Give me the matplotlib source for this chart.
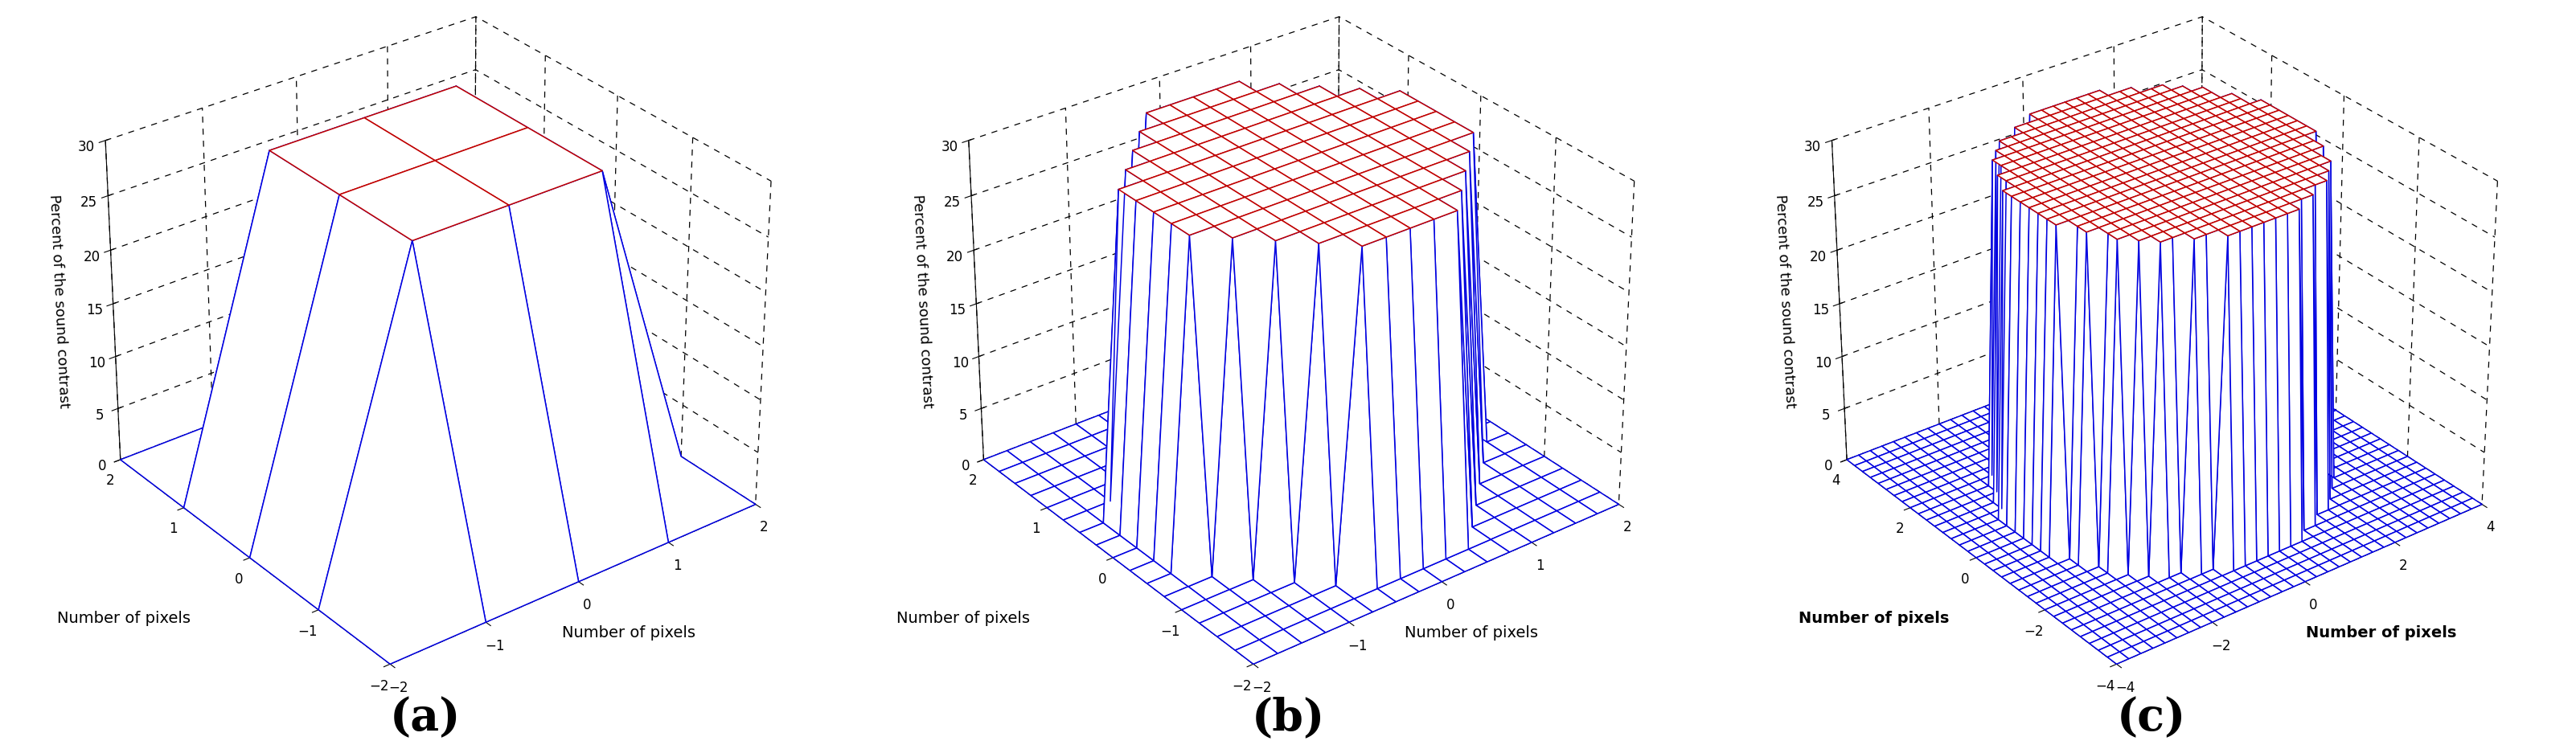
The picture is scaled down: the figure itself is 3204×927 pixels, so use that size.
import numpy as np
import matplotlib
matplotlib.use("Agg")
import matplotlib.pyplot as plt

# panel settings: axis half-range, grid step, radius of raised disk, height
half_range = [2, 2, 4]
grid_step = [1.0, 0.25, 0.25]
top_radius = [1.5, 1.6, 2.9]
top_height = [30, 30, 30]
panel_names = ["(a)", "(b)", "(c)"]
z_ticks = [0, 5, 10, 15, 20, 25, 30]
label_weights = ["normal", "normal", "bold"]

fig = plt.figure(figsize=(32.05, 9.28), dpi=100)
lefts = [-0.02, 0.315, 0.65]
xlab_pos = [(0.022, 0.165), (0.348, 0.165), (0.698, 0.165)]
ylab_pos = [(0.218, 0.145), (0.545, 0.145), (0.895, 0.145)]

for i in range(3):
    ax = fig.add_axes([lefts[i], 0.06, 0.37, 0.98], projection="3d")
    h = half_range[i]
    v = np.arange(-h, h + grid_step[i] / 2, grid_step[i])
    X, Y = np.meshgrid(v, v)
    if i == 0:
        Z = np.where((np.abs(X) <= 1) & (np.abs(Y) <= 1), top_height[i], 0.0)
    else:
        Z = np.where(np.hypot(X, Y) <= top_radius[i], top_height[i], 0.0)
    surf = ax.plot_surface(X, Y, Z, color="white", shade=False, linewidth=1.1,
                           antialiased=True)
    zc = (Z[:-1, :-1] + Z[1:, :-1] + Z[:-1, 1:] + Z[1:, 1:]) / 4
    ecols = np.where(zc.ravel() >= top_height[i] * 0.99, "#c00000", "#0000e0")
    surf.set_edgecolors(list(ecols))
    ax.view_init(elev=30, azim=-127.5)
    ax.set_xlim(-h, h)
    ax.set_ylim(-h, h)
    ax.set_zlim(0, 30)
    ticks = np.arange(-h, h + 1, 1 if h == 2 else 2)
    ax.set_xticks(ticks)
    ax.set_yticks(ticks)
    ax.set_zticks(z_ticks)
    ax.tick_params(labelsize=12, pad=2)
    ax.set_zlabel("Percent of the sound contrast", fontsize=13, labelpad=8)
    for a in (ax.xaxis, ax.yaxis, ax.zaxis):
        a.set_pane_color((1, 1, 1, 0))
        a._axinfo["grid"].update(color="black", linestyle=(0, (6, 6)), linewidth=0.9)
    ax.set_box_aspect((1, 1, 0.8))
    fig.text(*xlab_pos[i], "Number of pixels", fontsize=14, fontweight=label_weights[i])
    fig.text(*ylab_pos[i], "Number of pixels", fontsize=14, fontweight=label_weights[i])
    fig.text(lefts[i] + 0.185, 0.02, panel_names[i], fontsize=40, fontweight="bold",
             family="DejaVu Serif", ha="center")

fig.savefig("out.png", dpi=100)
